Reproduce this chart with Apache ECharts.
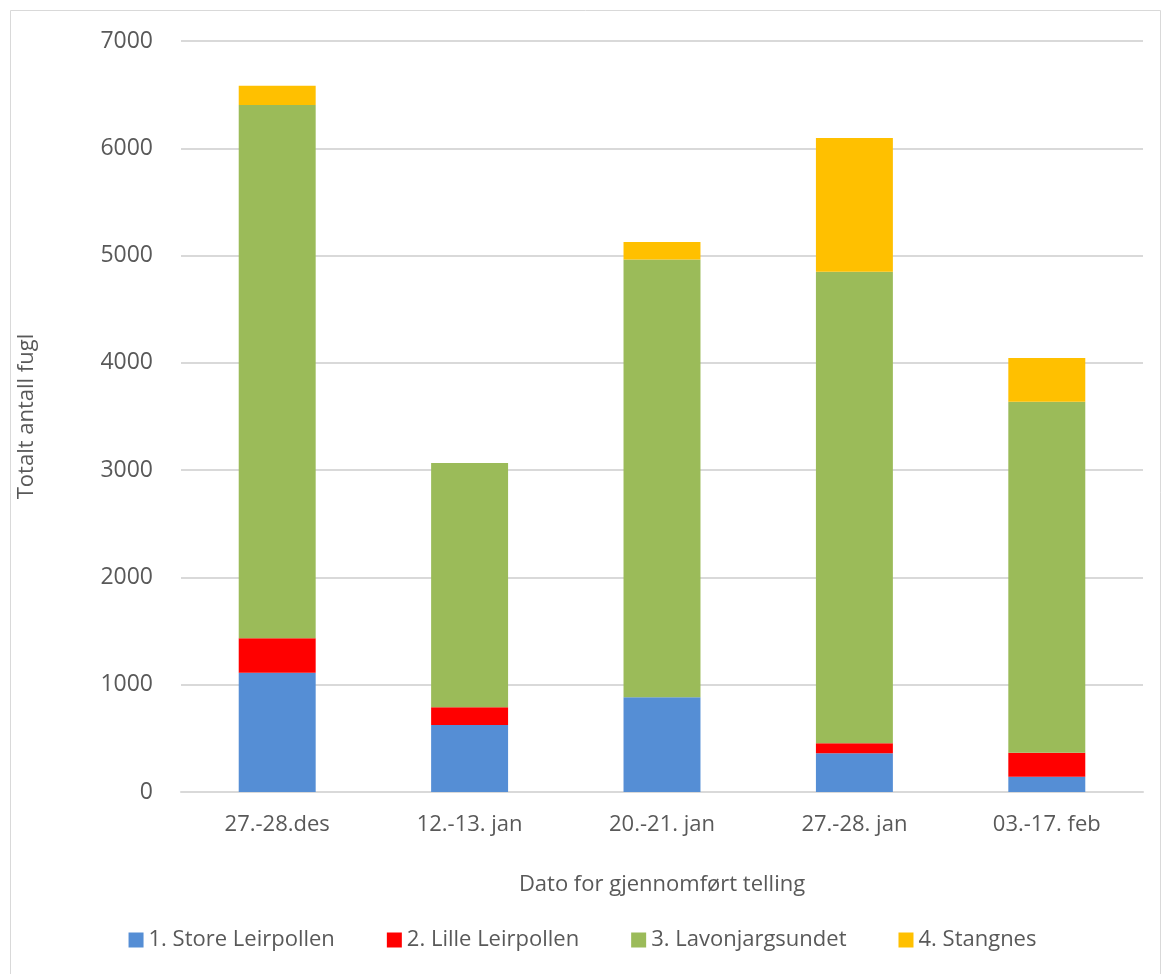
<!DOCTYPE html>
<html>
<head>
<meta charset="utf-8">
<script src="https://cdn.jsdelivr.net/npm/echarts@6/dist/echarts.min.js"></script>
<style>
html, body { margin: 0; padding: 0; background: #fff; }
#main { width: 1165px; height: 974px; }
</style>
</head>
<body>
<div id="main"></div>
<script>
var categories = ['27.-28.des', '12.-13. jan', '20.-21. jan', '27.-28. jan', '03.-17. feb'];
var storeLeirpollen = [1112, 624, 883, 361, 143];
var lilleLeirpollen = [320, 165, 0, 93, 223];
var lavonjargsundet = [4971, 2277, 4081, 4395, 3272];
var stangnes = [180, 0, 162, 1246, 407];
var yTicks = [0, 1000, 2000, 3000, 4000, 5000, 6000, 7000];

var myChart = echarts.init(document.getElementById('main'));
var font = 'Open Sans';
var grey = '#595959';

function bar(name, data, color) {
	return {
		name: name,
		type: 'bar',
		stack: 'total',
		barWidth: '40%',
		data: data,
		itemStyle: { color: color }
	};
}

var option = {
	backgroundColor: '#fff',
	animation: false,
	textStyle: { fontFamily: font },
	graphic: [{
		type: 'rect',
		shape: { x: 10.5, y: 10.5, width: 1150, height: 980 },
		style: { fill: 'none', stroke: '#d9d9d9', lineWidth: 1 }
	}],
	grid: { left: 181, right: 22, top: 41, bottom: 182 },
	legend: {
		bottom: 18,
		left: 'center',
		itemWidth: 15,
		itemHeight: 15,
		itemGap: 52,
		icon: 'rect',
		textStyle: { color: grey, fontSize: 22, fontFamily: font },
		data: ['1. Store Leirpollen', '2. Lille Leirpollen', '3. Lavonjargsundet', '4. Stangnes']
	},
	xAxis: {
		type: 'category',
		data: categories,
		name: 'Dato for gjennomført telling',
		nameLocation: 'middle',
		nameGap: 82,
		nameTextStyle: { color: grey, fontSize: 22 },
		axisLine: { lineStyle: { color: '#d9d9d9', width: 2 } },
		axisTick: { show: false },
		axisLabel: { color: grey, fontSize: 22, margin: 22 }
	},
	yAxis: {
		type: 'value',
		min: yTicks[0],
		max: yTicks[yTicks.length - 1],
		interval: 1000,
		name: 'Totalt antall fugl',
		nameLocation: 'middle',
		nameGap: 143,
		nameRotate: 90,
		nameTextStyle: { color: grey, fontSize: 22 },
		axisLine: { show: false },
		axisTick: { show: false },
		axisLabel: {
			color: grey,
			fontSize: 23,
			margin: 28,
			formatter: function (v) { return String(v); }
		},
		splitLine: { lineStyle: { color: '#d9d9d9', width: 2 } }
	},
	series: [
		bar('1. Store Leirpollen', storeLeirpollen, '#558ed5'),
		bar('2. Lille Leirpollen', lilleLeirpollen, '#ff0000'),
		bar('3. Lavonjargsundet', lavonjargsundet, '#9bbb59'),
		bar('4. Stangnes', stangnes, '#ffc000')
	]
};
myChart.setOption(option);
</script>
</body>
</html>
